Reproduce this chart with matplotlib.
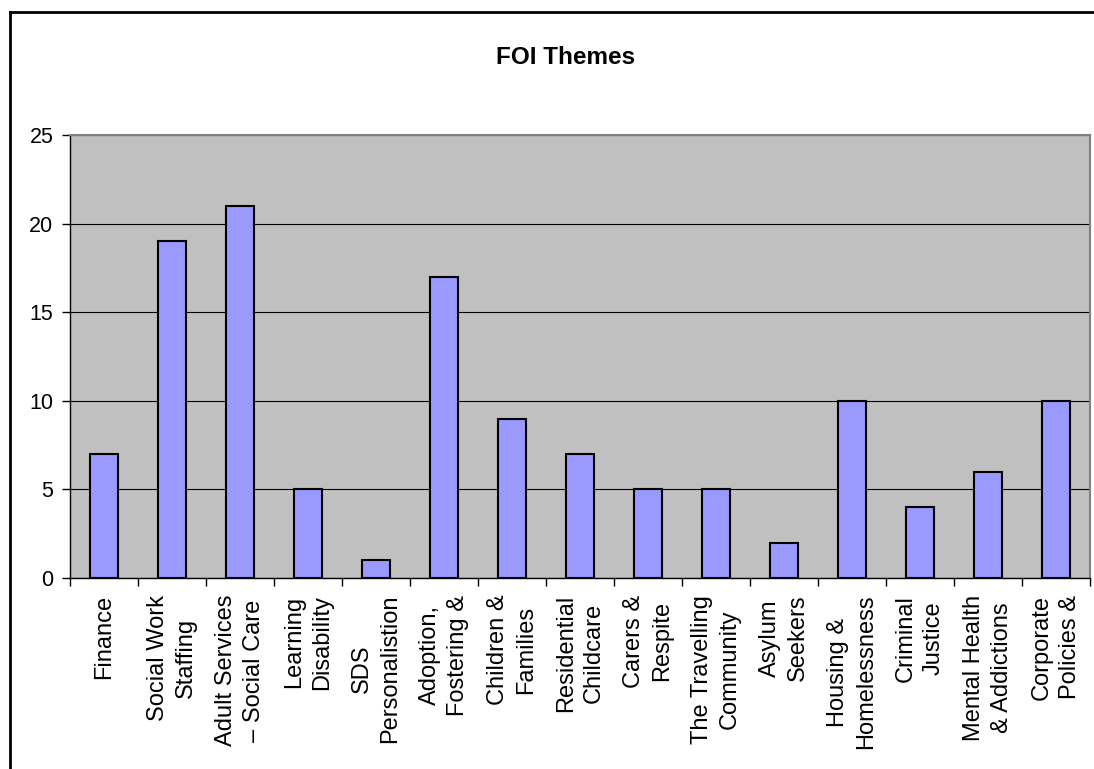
import numpy as np
import matplotlib.pyplot as plt
from matplotlib.lines import Line2D

plt.rcParams['font.family'] = ['Liberation Sans', 'DejaVu Sans']

# Datos
temas = ['Finance', 'Social Work\nStaffing', 'Adult Services\n– Social Care',
         'Learning\nDisability', 'SDS\nPersonalistion', 'Adoption,\nFostering &',
         'Children &\nFamilies', 'Residential\nChildcare', 'Carers &\nRespite',
         'The Travelling\nCommunity', 'Asylum\nSeekers', 'Housing &\nHomelessness',
         'Criminal\nJustice', 'Mental Health\n& Addictions', 'Corporate\nPolicies &']
valores = [7, 19, 21, 5, 1, 17, 9, 7, 5, 5, 2, 10, 4, 6, 10]
yticks = [0, 5, 10, 15, 20, 25]

GRIS = '#C0C0C0'
LILA = '#9999FF'

fig = plt.figure(figsize=(10.94, 7.69), dpi=100)
ax = fig.add_axes([0.064, 0.2484, 0.9323, 0.576])
ax.set_facecolor(GRIS)

x = np.arange(len(temas))
ax.bar(x, valores, width=0.41, color=LILA, edgecolor='black', linewidth=1.5, zorder=3)

ax.set_xlim(-0.5, len(temas) - 0.5)
ax.set_ylim(0, 25)
ax.set_yticks(yticks)
ax.yaxis.grid(True, color='black', linewidth=0.8, zorder=1)
ax.set_axisbelow(True)

ax.set_xticks(np.arange(len(temas) + 1) - 0.5)
ax.set_xticklabels([])
ax.set_xticks(x, minor=True)
ax.set_xticklabels(temas, minor=True, rotation=90, ha='center', va='top',
                   fontsize=17, linespacing=1.35)
ax.tick_params(axis='x', which='minor', length=0, pad=12)
ax.tick_params(axis='x', which='major', length=6, width=1, color='black')
ax.tick_params(axis='y', length=6, width=1, labelsize=15.5, pad=6)

for lado in ['top', 'right']:
    ax.spines[lado].set_color('#808080')
    ax.spines[lado].set_linewidth(1.5)
for lado in ['left', 'bottom']:
    ax.spines[lado].set_color('black')
    ax.spines[lado].set_linewidth(1)

fig.text(0.517, 0.925, 'FOI Themes', ha='center', va='center', fontsize=17.5, fontweight='bold')

# Borde exterior
fig.add_artist(Line2D([10/1094, 10/1094], [0, 1 - 12/769], transform=fig.transFigure, color='black', linewidth=2))
fig.add_artist(Line2D([10/1094, 1], [1 - 12/769, 1 - 12/769], transform=fig.transFigure, color='black', linewidth=2))

fig.savefig('out.png', dpi=100)
